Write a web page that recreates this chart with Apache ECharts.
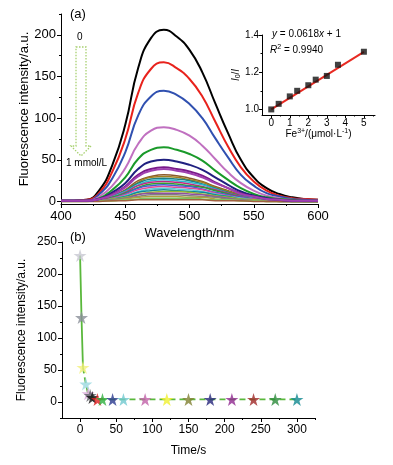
<!DOCTYPE html>
<html>
<head>
<meta charset="utf-8">
<script src="https://cdn.jsdelivr.net/npm/echarts@6.0.0/dist/echarts.min.js"></script>
<style>
html,body{margin:0;padding:0;background:#fff;}
#chart{width:393px;height:465px;}
</style>
</head>
<body>
<div id="chart"></div>
<script>
// (a) emission spectra, Fe3+ from 0 to 1 mmol/L
var wavelength = [400,410,420,430,440,450,460,470,480,490,500,510,520,530,540,550,560,570,580,590,600];
var spectra = [
	[1,1,2,14,44,92,160,196,206,198,182,155,118,82,50,29,16,9,5,3,2],
	[1,1,2,11,36,75,130,159,167,160,147,126,96,66,41,24,13,7,4,3,2],
	[1,1,1,9,28,59,103,126,133,128,117,100,76,53,32,19,10,6,3,2,1],
	[1,1,1,6,19,40,69,85,89,86,79,67,51,35,22,13,7,4,2,1,1],
	[1,1,1,4,14,29,51,62,65,62,57,49,37,26,16,9,5,3,2,1,1],
	[1,1,1,3,11,22,39,48,50,48,44,38,29,20,12,7,4,2,1,1,1],
	[1,1,1,3,9,18,32,39,41,39,36,31,23,16,10,6,3,2,1,1,1],
	[1,1,1,3,8,17,30,37,39,37,34,29,22,16,9,6,3,2,1,1,1],
	[1,1,1,2,7,14,25,30,32,31,28,24,18,13,8,5,2,1,1,0,0],
	[1,1,1,2,6,13,23,29,30,29,26,23,17,12,7,4,2,1,1,0,0],
	[1,1,1,2,6,13,22,27,28,27,25,21,16,11,7,4,2,1,1,0,0],
	[1,1,1,2,6,12,20,25,26,25,23,20,15,10,6,4,2,1,1,0,0],
	[1,1,1,2,5,11,19,23,24,23,21,18,14,10,6,3,2,1,1,0,0],
	[1,1,1,1,5,10,17,21,22,21,19,17,13,9,5,3,2,1,1,0,0],
	[1,1,1,1,4,9,16,19,20,19,18,15,11,8,5,3,2,1,0,0,0],
	[1,1,1,1,4,8,14,17,18,17,16,14,10,7,4,3,1,1,0,0,0],
	[1,1,1,1,3,7,12,15,16,15,14,12,9,6,4,2,1,1,0,0,0],
	[1,1,1,1,3,6,11,13,14,13,12,11,8,6,3,2,1,1,0,0,0],
	[1,1,1,1,3,5,9,11,12,12,11,9,7,5,3,2,1,1,0,0,0],
	[1,1,1,1,2,4,8,10,10,10,9,8,6,4,2,1,1,0,0,0,0],
	[1,1,1,1,2,4,6,8,8,8,7,6,5,3,2,1,1,0,0,0,0],
	[1,1,1,1,1,3,5,6,6,6,5,5,3,2,1,1,0,0,0,0,0],
	[0,0,0,1,1,2,3,4,4,4,4,3,2,2,1,1,0,0,0,0,0],
	[0,0,0,0,1,1,2,2,2,2,2,2,1,1,1,0,0,0,0,0,0]
];
var spectraColors = ['#000000','#e8221c','#3050b0','#c070c0','#1a9a2a','#202080','#7a1a8a','#a040b0',
	'#8b5a2b','#a08020','#208080','#30b8d0','#c02880','#30a030','#4060d0','#e04898',
	'#60c8d8','#108898','#98b830','#9050a0','#808080','#b0a040','#80c060','#a06040'];

// inset: I0/I against Fe3+
var feConc = [0,0.4,1,1.4,2,2.4,3,3.6,5];
var ratio = [1.0,1.03,1.07,1.10,1.13,1.16,1.18,1.24,1.31];
var fitX = [0,5];
var fitY = [1.0,1.309];

// (b) intensity against time
var timeData = [0,2,4,8,11,14,17,24,31,45,60,90,120,150,180,210,240,270,300];
var intensityData = [229,132,54,28,13,10,7,4,4,4,4,4,4,4,4,4,4,4,4];
var starColors = ['#c8c8d2','#8a8e98','#f2f07a','#9ad8e0','#d8a8d8','#606068','#111111','#e02020','#30b040',
	'#2a3a90','#70c8d0','#c060a8','#f0f030','#808030','#26267a','#902890','#a02828','#2a8a3a','#108890'];

// tick positions
var aXMajor = [400,450,500,550,600], aXMinor = [425,475,525,575];
var aYMajor = [0,50,100,150,200], aYMinor = [25,75,125,175,225];
var bXMajor = [0,50,100,150,200,250,300], bXMinor = [25,75,125,175,225,275,325];
var bYMajor = [0,50,100,150,200,250], bYMinor = [-25,25,75,125,175,225];
var inXMajor = [0,1,2,3,4,5], inXMinor = [0.5,1.5,2.5,3.5,4.5,5.5];
var inYMajor = [1.0,1.2,1.4], inYMinor = [1.1,1.3];

var FONT = 'Liberation Sans';
var STAR = 'path://M50,0 L61,35 L98,35 L68,57 L79,91 L50,70 L21,91 L32,57 L2,35 L39,35 Z';

function axisPair(dim, grid, min, max, major, minor, opt){
	var main = {
		type: 'value', gridIndex: grid, min: min, max: max,
		position: dim == 'x' ? 'bottom' : 'left',
		axisLine: {show: true, onZero: false, lineStyle: {color: '#000', width: 1}},
		axisTick: {show: true, length: opt.tick, customValues: major, lineStyle: {color: '#000'}},
		axisLabel: {show: true, customValues: major, color: '#000', fontFamily: FONT, fontSize: opt.font, margin: opt.margin,
			formatter: opt.fmt || '{value}'},
		splitLine: {show: false},
		name: opt.name, nameLocation: 'middle', nameGap: opt.gap, nameMoveOverlap: false,
		nameRotate: dim == 'y' ? 90 : 0,
		nameTextStyle: {color: '#000', fontFamily: FONT, fontSize: opt.nameFont, rich: opt.rich}
	};
	var sub = {
		type: 'value', gridIndex: grid, min: min, max: max,
		position: dim == 'x' ? 'bottom' : 'left', offset: 0,
		axisLine: {show: false, onZero: false},
		axisTick: {show: true, length: opt.tick / 2, customValues: minor, lineStyle: {color: '#000'}},
		axisLabel: {show: false},
		splitLine: {show: false}
	};
	return [main, sub];
}

var xAxes = [].concat(
	axisPair('x', 0, 400, 600, aXMajor, aXMinor, {tick: 4, font: 13, margin: 6, name: 'Wavelength/nm', gap: 23, nameFont: 13}),
	axisPair('x', 1, -25, 325, bXMajor, bXMinor, {tick: 4, font: 12, margin: 6, name: 'Time/s', gap: 27, nameFont: 12}),
	axisPair('x', 2, -0.5, 5.6, inXMajor, inXMinor, {tick: 3, font: 10, margin: 3,
		name: '{n|Fe}{sup|3+}{n|/(μmol·L}{sup|-1}{n|)}', gap: 13, nameFont: 10,
		rich: {n: {fontSize: 10, fontFamily: FONT, color: '#000'}, sup: {fontSize: 7, fontFamily: FONT, color: '#000', verticalAlign: 'top', padding: [0, 0, 5, 0]}}})
);
var yAxes = [].concat(
	axisPair('y', 0, -3, 225, aYMajor, aYMinor, {tick: 4, font: 13, margin: 5, name: 'Fluorescence intensity/a.u.', gap: 30, nameFont: 13}),
	axisPair('y', 1, -25, 250, bYMajor, bYMinor, {tick: 4, font: 12, margin: 5, name: 'Fluorescence intensity/a.u.', gap: 34, nameFont: 12}),
	axisPair('y', 2, 0.97, 1.4, inYMajor, inYMinor, {tick: 3, font: 10, margin: 3,
		fmt: function(v){ return v.toFixed(1); },
		name: '{i|I}{sub|0}{n|/}{i|I}', gap: 20, nameFont: 10,
		rich: {i: {fontSize: 10, fontStyle: 'italic', fontFamily: FONT, color: '#000'}, n: {fontSize: 10, fontFamily: FONT, color: '#000'},
			sub: {fontSize: 7, fontFamily: FONT, color: '#000', padding: [5, 0, 0, 0]}}})
);

var series = [];
for(var i = 0;i < spectra.length;i++){
	var pts = [];
	for(var j = 0;j < wavelength.length;j++){
		pts.push([wavelength[j], spectra[i][j]]);
	}
	series.push({
		type: 'line', xAxisIndex: 0, yAxisIndex: 0, data: pts,
		showSymbol: false, smooth: true, silent: true,
		lineStyle: {color: spectraColors[i], width: i < 8 ? 2 : 1.5},
		z: 10 - (i < 8 ? 0 : 1)
	});
}

var fitPts = [];
for(var i = 0;i < fitX.length;i++) fitPts.push([fitX[i], fitY[i]]);
series.push({type: 'line', xAxisIndex: 4, yAxisIndex: 4, data: fitPts, showSymbol: false,
	lineStyle: {color: '#e82a22', width: 2}, z: 5});
var insetPts = [];
for(var i = 0;i < feConc.length;i++) insetPts.push([feConc[i], ratio[i]]);
series.push({type: 'scatter', xAxisIndex: 4, yAxisIndex: 4, data: insetPts, symbol: 'rect', symbolSize: 6,
	itemStyle: {color: '#111'}, z: 6});

var timePts = [];
for(var i = 0;i < timeData.length;i++) timePts.push([timeData[i], intensityData[i]]);
series.push({type: 'line', xAxisIndex: 2, yAxisIndex: 2, data: timePts.slice(0, 3), showSymbol: false,
	lineStyle: {color: '#5ab83c', width: 1.8}, z: 3});
series.push({type: 'line', xAxisIndex: 2, yAxisIndex: 2, data: timePts.slice(2), showSymbol: false,
	lineStyle: {color: '#5ab83c', width: 1.8, type: [6, 4]}, z: 3});
series.push({type: 'scatter', xAxisIndex: 2, yAxisIndex: 2, data: timePts, symbol: STAR, symbolSize: 13,
	itemStyle: {color: function(p){ return starColors[p.dataIndex]; }}, z: 4});

var option = {
	animation: false,
	backgroundColor: '#fff',
	grid: [
		{left: 61, top: 14, width: 257, height: 190},
		{left: 62, top: 242, width: 253, height: 176},
		{left: 262, top: 35, width: 113, height: 80}
	],
	xAxis: xAxes,
	yAxis: yAxes,
	series: series,
	graphic: [
		{type: 'text', left: 70, top: 8, style: {text: '(a)', font: '13px "Liberation Sans"', fill: '#000'}},
		{type: 'text', left: 70, top: 231, style: {text: '(b)', font: '13px "Liberation Sans"', fill: '#000'}},
		{type: 'text', left: 77, top: 32, style: {text: '0', font: '10px "Liberation Sans"', fill: '#000'}},
		{type: 'text', left: 66, top: 158, style: {text: '1 mmol/L', font: '10px "Liberation Sans"', fill: '#000'}},
		{type: 'polygon', shape: {points: [[76,47],[86,47],[86,146],[91,146],[81,156],[71,146],[76,146]]},
			style: {fill: 'none', stroke: '#a8d070', lineWidth: 1.3, lineDash: [1.5, 1.5]}},
		{type: 'text', left: 272, top: 29, style: {text: '{i|y} = 0.0618{i|x} + 1', font: '10px "Liberation Sans"', fill: '#000',
			rich: {i: {fontStyle: 'italic', fontSize: 10, fontFamily: FONT}}}},
		{type: 'text', left: 270, top: 44, style: {text: '{i|R}{sup|2} = 0.9940', font: '10px "Liberation Sans"', fill: '#000',
			rich: {i: {fontStyle: 'italic', fontSize: 10, fontFamily: FONT}, sup: {fontSize: 7, fontFamily: FONT, padding: [0, 0, 5, 0]}}}}
	]
};

var chart = echarts.init(document.getElementById('chart'));
chart.setOption(option);
</script>
</body>
</html>
